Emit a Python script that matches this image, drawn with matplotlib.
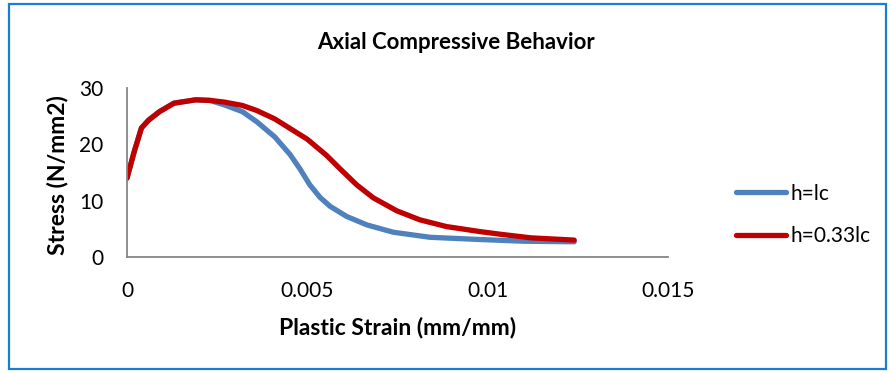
import matplotlib
matplotlib.use("Agg")
import matplotlib.pyplot as plt
from matplotlib.patches import Rectangle

# --- Data ---
strain_lc = [0, 0.0002, 0.0004, 0.0006, 0.0009, 0.0013, 0.0019, 0.0023, 0.0027, 0.0032,
             0.0036, 0.0041, 0.00452, 0.0048, 0.00507, 0.00535, 0.00563, 0.00609,
             0.00665, 0.00738, 0.0084, 0.0098, 0.011, 0.0124]
stress_lc = [14.0, 18.7, 22.9, 24.3, 25.8, 27.3, 27.9, 27.8, 27.0, 25.8,
             24.0, 21.3, 18.2, 15.6, 12.8, 10.6, 9.0, 7.2,
             5.7, 4.4, 3.5, 3.1, 2.8, 2.7]

strain_033 = [0, 0.0002, 0.0004, 0.0006, 0.0009, 0.0013, 0.0019, 0.0023, 0.0027, 0.0032,
              0.0036, 0.0041, 0.0046, 0.0050, 0.00554, 0.0059, 0.00637, 0.00683,
              0.00748, 0.00812, 0.00886, 0.0098, 0.0104, 0.0112, 0.0124]
stress_033 = [14.0, 18.7, 22.9, 24.3, 25.8, 27.3, 27.9, 27.8, 27.5, 26.9,
              26.0, 24.5, 22.5, 20.9, 18.0, 15.7, 12.8, 10.5,
              8.2, 6.6, 5.4, 4.5, 4.0, 3.4, 3.0]

x_ticks = [0, 0.005, 0.01, 0.015]
x_tick_labels = ["0", "0.005", "0.01", "0.015"]
y_ticks = [0, 10, 20, 30]

plt.rcParams['font.family'] = ['Lato', 'DejaVu Sans']

fig = plt.figure(figsize=(8.92, 3.73), dpi=100)
ax = fig.add_axes([127 / 892, 1 - 257 / 373, 541 / 892, 169 / 373])

ax.plot(strain_lc, stress_lc, color='#4F81BD', lw=3.8, solid_capstyle='round',
        solid_joinstyle='round', label='h=lc')
ax.plot(strain_033, stress_033, color='#C00000', lw=3.8, solid_capstyle='round',
        solid_joinstyle='round', label='h=0.33lc')

ax.set_xlim(0, 0.015)
ax.set_ylim(0, 30)
ax.set_xticks(x_ticks)
ax.set_xticklabels(x_tick_labels)
ax.set_yticks(y_ticks)
ax.tick_params(length=0, labelsize=15, colors='black')
ax.tick_params(axis='x', pad=17)
ax.tick_params(axis='y', pad=17)

for side in ['top', 'right']:
    ax.spines[side].set_visible(False)
for side in ['left', 'bottom']:
    ax.spines[side].set_color('#868686')
    ax.spines[side].set_linewidth(1.3)

ax.set_title("Axial Compressive Behavior", fontsize=16, fontweight='bold',
             x=0.608, y=1.272, va='center', pad=0)
ax.set_xlabel("Plastic Strain (mm/mm)", fontsize=16.5, fontweight='bold', va='center')
ax.xaxis.set_label_coords(0.5, -70 / 169)
ax.set_ylabel("Stress (N/mm2)", fontsize=16.5, fontweight='bold', va='center')
ax.yaxis.set_label_coords(-69 / 541, 82 / 169)

ax.legend(loc='center left', bbox_to_anchor=((736 - 127) / 541, 42 / 169), frameon=False,
          fontsize=15, borderpad=0, borderaxespad=0, handlelength=2.4,
          handletextpad=0.2, labelspacing=1.1)

# blue outer border of the chart area
fig.patches.append(Rectangle((9 / 892, 4 / 373), 877 / 892, 365 / 373,
                             transform=fig.transFigure, fill=False,
                             edgecolor='#1C7CD5', lw=1.6))

fig.savefig("out.png", dpi=100)
